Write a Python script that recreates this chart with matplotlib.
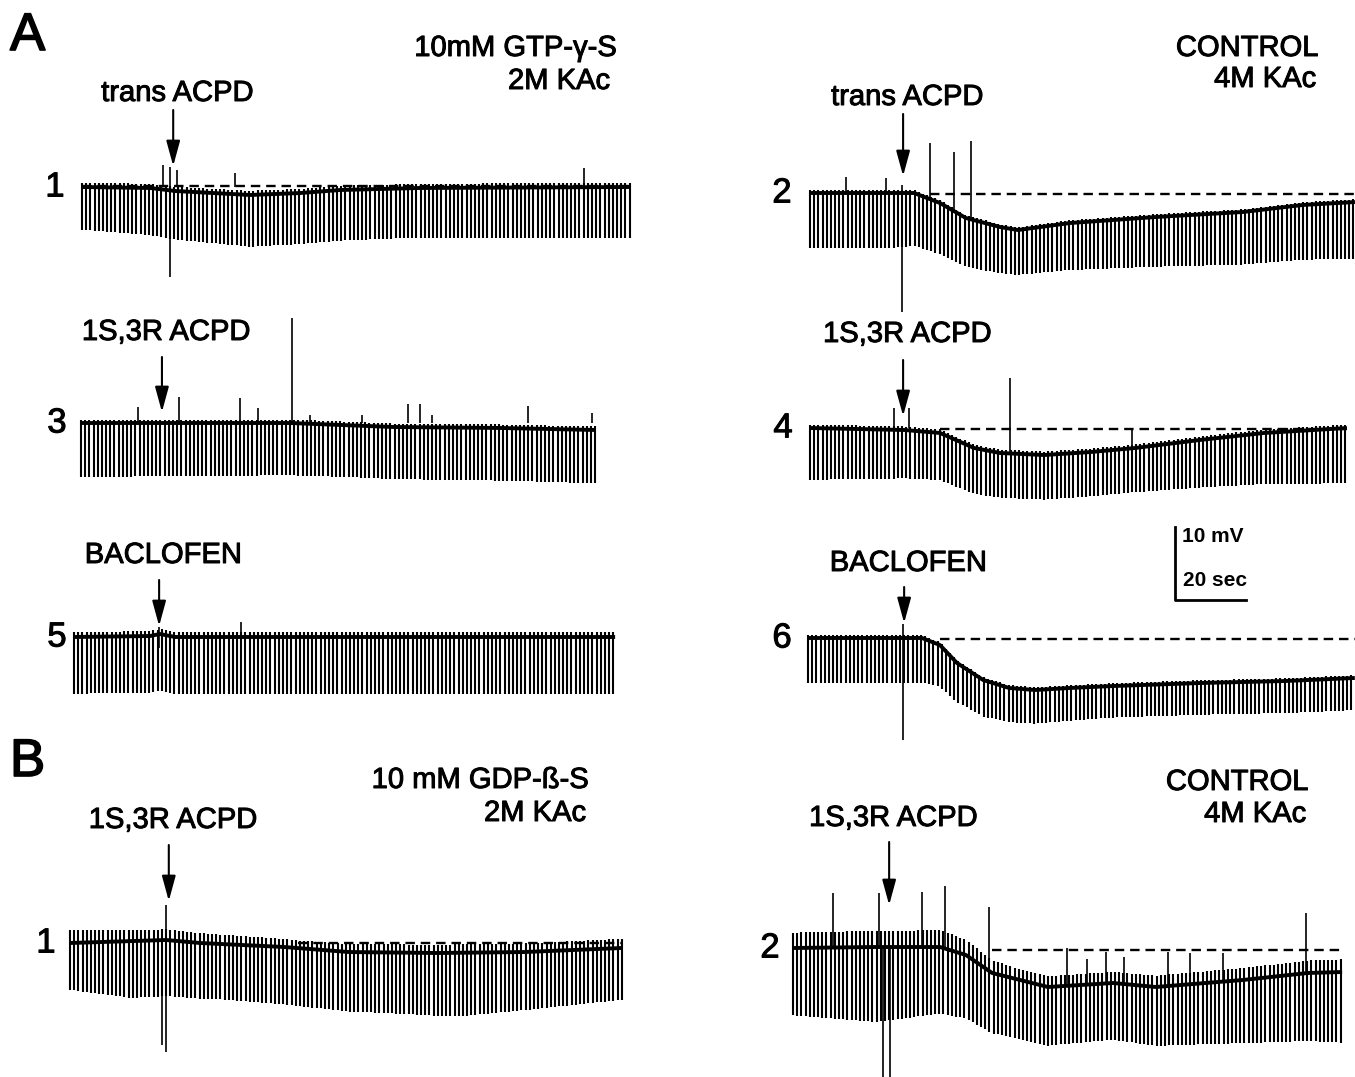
import numpy as np
import matplotlib.pyplot as plt
import matplotlib.patheffects as pe
from matplotlib.patches import FancyArrowPatch

plt.rcParams['font.family'] = ['Liberation Sans', 'DejaVu Sans']

# calibration: 20 sec = 76 px, 10 mV = 70 px
PX_S = 76 / 20.0
PX_MV = 70 / 10.0
PULSE_PERIOD = 1.1   # s between hyperpolarizing pulses

# ---------------- A1 : GTP-y-S, trans ACPD ----------------
a1_dur = 144.2
a1_base_t = [0, 17.9, 24.5, 44.2, 57.4, 67.9, 88.9, 144.2]
a1_base_v = [0, -0.14, -0.57, -1.14, -0.86, -0.43, -0.14, 0]
a1_depth_t = [0, 23.2, 44.2, 83.7, 144.2]
a1_depth_v = [6.1, 6.9, 7.4, 7.1, 7.3]
a1_over = 0.6
a1_drug = 24.0
# (time, top mV, bottom mV)
a1_spikes = [(23.2, 2.9, -12.9), (21.4, 3.1, 0), (25.0, 2.4, 0), (40.3, 2.0, 0), (132.1, 2.7, 0)]
a1_dash = (0, 144.2, 0.1)

# ---------------- A2 : control, trans ACPD ----------------
a2_dur = 143.4
a2_base_t = [0, 27.4, 34.2, 41.0, 50.0, 54.7, 68.4, 91.0, 114.0, 129.7, 143.4]
a2_base_v = [0, 0, -1.43, -3.57, -4.86, -5.29, -4.29, -3.43, -2.71, -1.71, -1.29]
a2_depth_t = [0, 20, 54.7, 68, 114, 143.4]
a2_depth_v = [7.9, 7.9, 6.4, 6.7, 7.5, 8.1]
a2_over = 0.4
a2_drug = 24.5
a2_spikes = [(9.5, 2.3, 0), (20.0, 2.1, 0), (24.2, 1.1, -17.0),
             (31.6, 7.1, -1.0), (37.9, 5.9, -2.5), (42.4, 7.4, -4.0)]
a2_dash = (31.6, 143.4, -0.1)

# ---------------- A3 : GTP-y-S, 1S,3R ACPD ----------------
a3_dur = 135.5
a3_base_t = [0, 55, 82.1, 110.3, 135.5]
a3_base_v = [0, 0, -0.57, -0.71, -1.0]
a3_depth_t = [0, 70, 135.5]
a3_depth_v = [7.7, 7.4, 7.6]
a3_over = 0.5
a3_drug = 21.3
a3_spikes = [(55.5, 15.0, 0), (15.0, 2.3, 0), (25.8, 3.7, 0), (41.8, 3.6, 0), (46.6, 2.1, 0),
             (60.3, 1.1, 0), (73.9, 1.1, 0), (86.0, 2.7, 0), (89.2, 2.7, 0), (92.4, 1.1, 0),
             (117.6, 2.4, 0), (134.5, 1.4, 0)]
a3_dash = None

# ---------------- A4 : control, 1S,3R ACPD ----------------
a4_dur = 141.3
a4_base_t = [0, 25, 34.2, 43.2, 50, 61.6, 73.9, 85.5, 102.6, 119.5, 141.3]
a4_base_v = [0, -0.29, -0.71, -2.86, -3.57, -3.86, -3.43, -2.86, -1.71, -0.71, 0]
a4_depth_t = [0, 50, 85, 141.3]
a4_depth_v = [7.4, 6.4, 6.3, 7.9]
a4_over = 0.5
a4_drug = 24.5
a4_spikes = [(52.6, 7.1, -3.6), (22.1, 2.9, 0), (26.1, 2.9, 0), (84.7, -0.2, -3.0)]
a4_dash = (34.2, 141.3, -0.2)

# ---------------- A5 : GTP-y-S, baclofen ----------------
a5_dur = 142.4
a5_base_t = [0, 20, 22.6, 26.6, 142.4]
a5_base_v = [0, 0.14, 0.43, 0, 0]
a5_depth_t = [0, 142.4]
a5_depth_v = [8.1, 8.1]
a5_over = 0.7
a5_drug = 22.4
a5_spikes = [(43.9, 2.1, 0), (22.4, 1.5, -1.5)]
a5_dash = None

# ---------------- A6 : control, baclofen ----------------
a6_dur = 143.9
a6_base_t = [0, 30, 34.7, 39.2, 46.1, 52.9, 59.7, 68.9, 80.3, 103.2, 125.8, 143.9]
a6_base_v = [0, 0, -1.0, -3.57, -6.0, -7.14, -7.43, -7.14, -6.86, -6.43, -6.14, -5.71]
a6_depth_t = [0, 30, 40, 53, 80, 143.9]
a6_depth_v = [6.4, 6.4, 5.5, 4.9, 4.5, 4.6]
a6_over = 0.4
a6_drug = 25.3
a6_spikes = [(25.0, 2.0, -14.6)]
a6_dash = (34.7, 143.9, -0.1)

# ---------------- B1 : GDP-B-S, 1S,3R ACPD ----------------
b1_dur = 145.3
b1_base_t = [0, 25.3, 34.2, 56.3, 73.4, 96.6, 119.5, 145.3]
b1_base_v = [0, 0.43, 0, -0.57, -1.29, -1.43, -1.29, -0.71]
b1_depth_t = [0, 16, 39, 85, 102, 119.5, 145.3]
b1_depth_v = [6.7, 8.1, 7.9, 8.7, 9.1, 8.3, 7.4]
b1_over_t = [0, 60, 145.3]
b1_over_v = [1.8, 1.1, 1.3]
b1_drug = 26.0
b1_spikes = [(25.3, 5.4, -15.6), (24.2, 2.0, -14.5)]
b1_dash = (60, 145.3, 0)

# ---------------- B2 : control, 1S,3R ACPD ----------------
b2_dur = 144.5
b2_base_t = [0, 21.6, 38.7, 45.5, 52.4, 67.1, 84.2, 95.5, 118.4, 135.5, 144.5]
b2_base_v = [0, 0.14, 0.14, -1.0, -3.57, -5.57, -5.0, -5.57, -4.57, -3.57, -3.43]
b2_depth_t = [0, 21.6, 52.4, 84, 118, 144.5]
b2_depth_v = [9.6, 10.7, 8.6, 8.1, 9.0, 10.1]
b2_over_t = [0, 40, 60, 144.5]
b2_over_v = [2.2, 2.4, 1.5, 1.8]
b2_drug = 25.3
b2_spikes = [(10.5, 7.9, 0), (22.6, 7.9, 0), (34.0, 8.0, 0), (40.0, 8.9, 0), (51.6, 5.9, -3.3),
             (72.1, 0, -5.4), (77.4, -1.6, -5.2), (82.4, -0.6, -5.0), (87.1, -1.3, -5.3),
             (98.7, -0.6, -5.5), (104.5, -0.7, -5.3), (113.2, -0.7, -4.6), (135.0, 5.0, -3.6),
             (23.7, 0, -18.6), (25.5, 0, -18.6)]
b2_dash = (52.4, 144.5, -0.3)


fig = plt.figure(figsize=(13.55, 10.77), dpi=100)
ax = fig.add_axes([0, 0, 1, 1])
ax.set_xlim(0, 1355)
ax.set_ylim(1077, 0)
ax.axis('off')

heavy = [pe.withStroke(linewidth=0.7, foreground='k')]


def draw_trace(x0, y0, dur, bt, bv, dt, dv, over, spikes, dash, drug, drug_name, num,
               lab_y, arr_top, arr_tip, num_x, over_t=None):
    tp = np.arange(0, dur, PULSE_PERIOD)
    base = np.interp(tp, bt, bv)
    depth = np.interp(tp, dt, dv)
    if over_t is None:
        ov = np.full_like(tp, over)
    else:
        ov = np.interp(tp, over_t, over)
    X = x0 + tp * PX_S
    ax.vlines(X, y0 - (base - depth) * PX_MV, y0 - (base + ov) * PX_MV, color='k', lw=1.5)
    ax.plot(x0 + np.array(bt) * PX_S, y0 - np.array(bv) * PX_MV, color='k', lw=2.8,
            solid_capstyle='butt')
    for t, top, bot in spikes:
        ax.vlines(x0 + t * PX_S, y0 - bot * PX_MV, y0 - top * PX_MV, color='k', lw=1.2)
    if dash is not None:
        ax.plot([x0 + dash[0] * PX_S, x0 + dash[1] * PX_S], [y0 - dash[2] * PX_MV] * 2,
                color='k', lw=1.7, linestyle=(0, (4, 2.5)))
    xa = x0 + drug * PX_S
    arr = FancyArrowPatch((xa, arr_top), (xa, arr_tip),
                          arrowstyle='-|>,head_length=1.1,head_width=0.3',
                          mutation_scale=14, color='k', lw=1.5, shrinkA=0, shrinkB=0)
    ax.add_patch(arr)
    ax.text(xa + 4, lab_y, drug_name, ha='center', va='center', fontsize=21, path_effects=heavy)
    ax.text(num_x, y0, num, ha='center', va='center', fontsize=25, path_effects=heavy)


draw_trace(82, 187, a1_dur, a1_base_t, a1_base_v, a1_depth_t, a1_depth_v, a1_over,
           a1_spikes, a1_dash, a1_drug, 'trans ACPD', '1', 93, 110, 166, 55)
draw_trace(810, 193, a2_dur, a2_base_t, a2_base_v, a2_depth_t, a2_depth_v, a2_over,
           a2_spikes, a2_dash, a2_drug, 'trans ACPD', '2', 97, 114, 176, 782)
draw_trace(81, 423, a3_dur, a3_base_t, a3_base_v, a3_depth_t, a3_depth_v, a3_over,
           a3_spikes, a3_dash, a3_drug, '1S,3R ACPD', '3', 332, 357, 412, 57)
draw_trace(810, 428, a4_dur, a4_base_t, a4_base_v, a4_depth_t, a4_depth_v, a4_over,
           a4_spikes, a4_dash, a4_drug, '1S,3R ACPD', '4', 334, 360, 416, 783)
draw_trace(74, 637, a5_dur, a5_base_t, a5_base_v, a5_depth_t, a5_depth_v, a5_over,
           a5_spikes, a5_dash, a5_drug, 'BACLOFEN', '5', 555, 580, 626, 57)
draw_trace(808, 638, a6_dur, a6_base_t, a6_base_v, a6_depth_t, a6_depth_v, a6_over,
           a6_spikes, a6_dash, a6_drug, 'BACLOFEN', '6', 563, 587, 623, 782)
draw_trace(70, 943, b1_dur, b1_base_t, b1_base_v, b1_depth_t, b1_depth_v, b1_over_v,
           b1_spikes, b1_dash, b1_drug, '1S,3R ACPD', '1', 820, 845, 901, 46, over_t=b1_over_t)
draw_trace(793, 948, b2_dur, b2_base_t, b2_base_v, b2_depth_t, b2_depth_v, b2_over_v,
           b2_spikes, b2_dash, b2_drug, '1S,3R ACPD', '2', 818, 842, 905, 770, over_t=b2_over_t)

# panel letters and condition headers
big = [pe.withStroke(linewidth=1.2, foreground='k')]
ax.text(10, 36, 'A', fontsize=38, ha='left', va='center', path_effects=big)
ax.text(10, 762, 'B', fontsize=38, ha='left', va='center', path_effects=big)
hdr = dict(fontsize=21, ha='right', va='center', path_effects=heavy)
ax.text(616, 48, '10mM GTP-γ-S', **hdr)
ax.text(610, 81, '2M KAc', **hdr)
ax.text(1318, 48, 'CONTROL', **hdr)
ax.text(1316, 79, '4M KAc', **hdr)
ax.text(588, 780, '10 mM GDP-ß-S', **hdr)
ax.text(586, 813, '2M KAc', **hdr)
ax.text(1308, 782, 'CONTROL', **hdr)
ax.text(1306, 814, '4M KAc', **hdr)

# scale bar
sx, sy = 1175, 600
ax.plot([sx, sx, sx + 20 * PX_S * 0.94], [sy - 10 * PX_MV * 1.05, sy, sy], color='k', lw=2.0)
ax.text(sx + 7, 536, '10 mV', fontsize=15, fontweight='bold', ha='left', va='center')
ax.text(sx + 8, 581, '20 sec', fontsize=15, fontweight='bold', ha='left', va='center')

fig.savefig('out.png', dpi=100)
